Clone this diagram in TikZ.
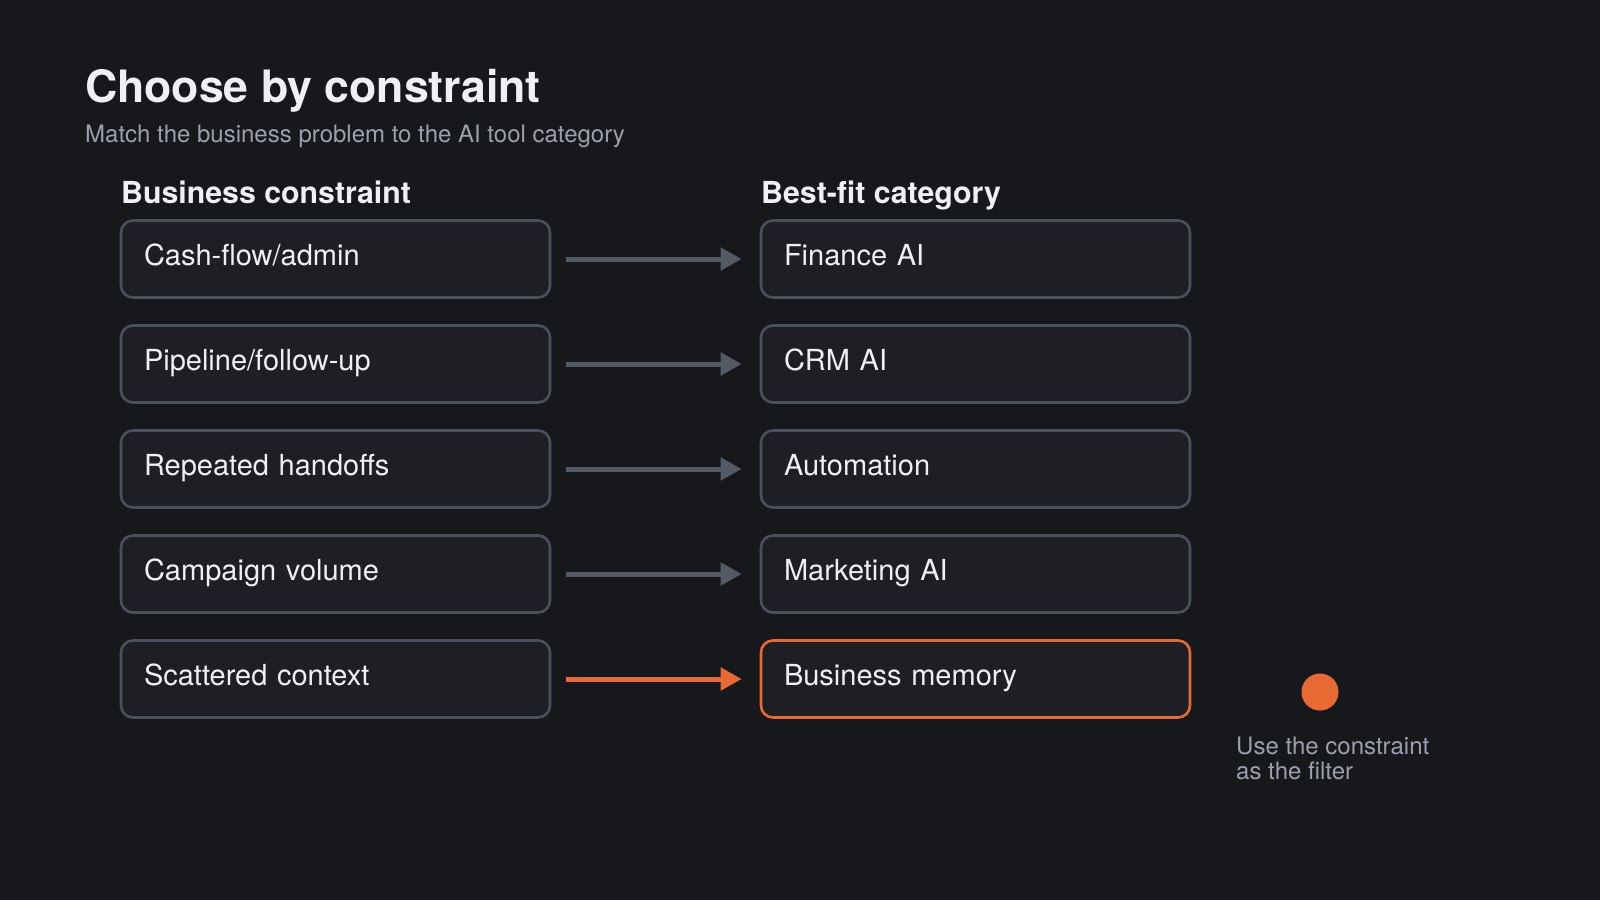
\documentclass[tikz,border=0pt]{standalone}
\usepackage{fontspec}
\setmainfont{TeX Gyre Heros}
\usetikzlibrary{arrows.meta}
\definecolor{bg}{HTML}{17181C}
\definecolor{boxfill}{HTML}{1D1F24}
\definecolor{boxline}{HTML}{4B515B}
\definecolor{arrgray}{HTML}{535A64}
\definecolor{accent}{HTML}{E86A32}
\definecolor{txt}{HTML}{EEF0F3}
\definecolor{subtxt}{HTML}{9BA1AA}
\tikzset{
  card/.style={draw=boxline, line width=2.6pt, fill=boxfill, rounded corners=12pt,
    minimum width=429pt, minimum height=77pt, text width=383pt, inner xsep=23pt,
    align=left, text=txt, font=\fontsize{29}{33}\selectfont, text height=20pt, text depth=7pt},
  hot/.style={draw=accent},
  link/.style={draw=arrgray, line width=5pt, -{Triangle[length=21pt,width=22pt]},
    shorten <=15pt, shorten >=18pt},
  hotlink/.style={draw=accent},
  heading/.style={anchor=base west, inner sep=0pt, text=txt, font=\fontsize{30.3}{34}\selectfont\bfseries},
}
\begin{document}
\begin{tikzpicture}[x=1pt,y=-1pt]
\fill[bg] (0,0) rectangle (1600,900);
\useasboundingbox (0,0) rectangle (1600,900);

\node[anchor=base west, inner sep=0pt, text=txt, font=\fontsize{44.6}{50}\selectfont\bfseries] (title) at (85,102) {Choose by constraint};
\node[anchor=base west, inner sep=0pt, text=subtxt, font=\fontsize{24}{28}\selectfont] (subtitle) at (85,142) {Match the business problem to the AI tool category};

\node[heading] (hl) at (121,203) {Business constraint};
\node[heading] (hr) at (761,203) {Best-fit category};

\node[card] (l1) at (335.5,259) {Cash-flow/admin};
\node[card] (l2) at (335.5,364) {Pipeline/follow-up};
\node[card] (l3) at (335.5,469) {Repeated handoffs};
\node[card] (l4) at (335.5,574) {Campaign volume};
\node[card] (l5) at (335.5,679) {Scattered context};

\node[card] (r1) at (975.5,259) {Finance AI};
\node[card] (r2) at (975.5,364) {CRM AI};
\node[card] (r3) at (975.5,469) {Automation};
\node[card] (r4) at (975.5,574) {Marketing AI};
\node[card,hot] (r5) at (975.5,679) {Business memory};

\draw[link] (l1) -- (r1);
\draw[link] (l2) -- (r2);
\draw[link] (l3) -- (r3);
\draw[link] (l4) -- (r4);
\draw[link,hotlink] (l5) -- (r5);

\node[circle, fill=accent, minimum size=37pt, inner sep=0pt] (dot) at (1320,692) {};
\node[anchor=base west, inner sep=0pt, text=subtxt, align=left, font=\fontsize{24}{24.5}\selectfont] (note) at (1236,779) {Use the constraint\\as the filter};
\end{tikzpicture}
\end{document}
